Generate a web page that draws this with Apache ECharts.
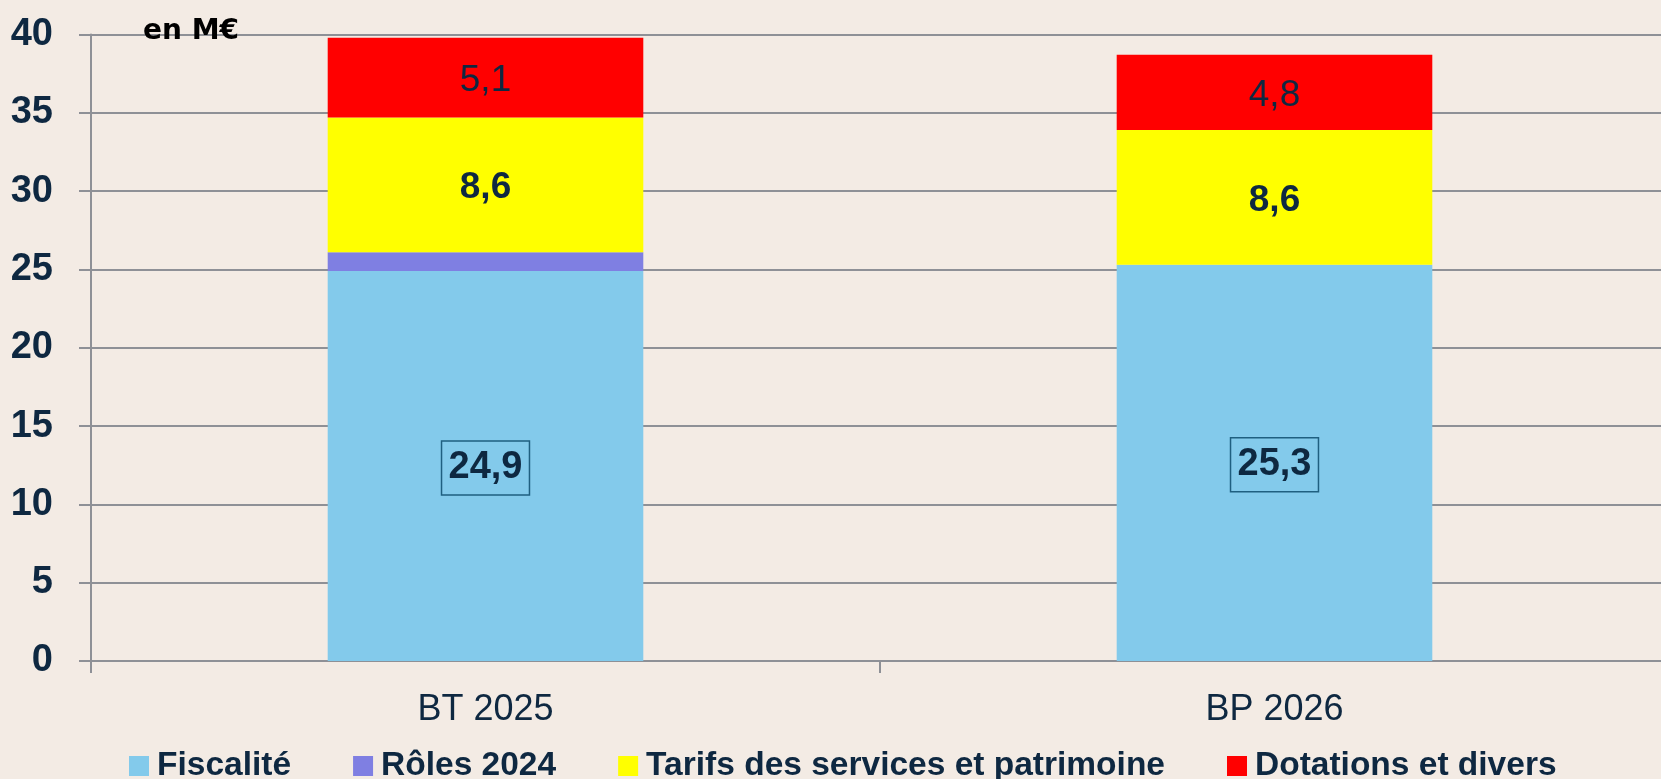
<!DOCTYPE html>
<html>
<head>
<meta charset="utf-8">
<script src="https://cdn.jsdelivr.net/npm/echarts@6/dist/echarts.min.js"></script>
<style>
  html, body { margin: 0; padding: 0; background: #F3EBE4; overflow: hidden; }
  #chart { width: 1661px; height: 779px; }
</style>
</head>
<body>
<div id="chart"></div>
<script>
const categories = ['BT 2025', 'BP 2026'];
const seriesNames = ['Fiscalité', 'Rôles 2024', 'Tarifs des services et patrimoine', 'Dotations et divers'];
const fiscalite = [24.9, 25.3];
const roles2024 = [1.2, null];
const tarifs = [8.6, 8.6];
const dotations = [5.1, 4.8];
const yTicks = { min: 0, max: 40, interval: 5 };
const unitLabel = 'en M€';

const NAVY = '#0E2841';
const GRAY = '#8E9096';
const FONT = "'Liberation Sans', Arial, sans-serif";

const fmt = p => (p.value == null ? '' : p.value.toFixed(1).replace('.', ','));

const chart = echarts.init(document.getElementById('chart'), null, { renderer: 'canvas' });

function barSeries(name, data, color, label) {
  return {
    name, type: 'bar', stack: 'total', data,
    barWidth: '40%',
    itemStyle: { color },
    label: label,
    emphasis: { disabled: true }
  };
}

chart.setOption({
  backgroundColor: '#F3EBE4',
  animation: false,
  textStyle: { fontFamily: FONT },
  grid: { left: 91, width: 1578, top: 34.5, bottom: 118, containLabel: false, outerBoundsMode: 'none' },
  legend: {
    data: seriesNames,
    left: 124, top: 744,
    icon: 'rect', itemWidth: 20, itemHeight: 20, itemGap: 62,
    textStyle: { fontSize: 33.5, fontWeight: 'bold', color: NAVY, fontFamily: FONT, padding: [0, 0, 0, 3] }
  },
  xAxis: {
    type: 'category', data: categories, boundaryGap: true,
    axisLine: { show: true, lineStyle: { color: GRAY, width: 2 } },
    axisTick: { show: true, length: 12, lineStyle: { color: GRAY, width: 2 } },
    axisLabel: { margin: 31, fontSize: 36, color: NAVY, fontFamily: FONT }
  },
  yAxis: {
    type: 'value', min: yTicks.min, max: yTicks.max, interval: yTicks.interval,
    axisLine: { show: true, lineStyle: { color: GRAY, width: 2 } },
    axisTick: { show: true, length: 12, lineStyle: { color: GRAY, width: 2 } },
    splitLine: { show: true, lineStyle: { color: GRAY, width: 2 } },
    axisLabel: { margin: 38, fontSize: 38, fontWeight: 'bold', color: NAVY, fontFamily: FONT }
  },
  graphic: [{
    type: 'text', left: 143, top: 18, z: 100,
    style: { text: unitLabel, font: "bold 28px 'DejaVu Sans', sans-serif", fill: '#000' }
  }],
  series: [
    barSeries(seriesNames[0], fiscalite, '#83CAEB', {
      show: true, position: 'inside', formatter: fmt,
      fontSize: 38, fontWeight: 'bold', color: NAVY, fontFamily: FONT,
      borderColor: '#1F5F80', borderWidth: 1.5, padding: [9, 7, 7, 7], offset: [0, 2]
    }),
    barSeries(seriesNames[1], roles2024, '#7F7FE2', { show: false }),
    barSeries(seriesNames[2], tarifs, '#FFFF00', {
      show: true, position: 'inside', formatter: fmt, offset: [0, 3],
      fontSize: 37, fontWeight: 'bold', color: NAVY, fontFamily: FONT
    }),
    barSeries(seriesNames[3], dotations, '#FF0000', {
      show: true, position: 'inside', formatter: fmt, offset: [0, 3],
      fontSize: 37, fontWeight: 'normal', color: NAVY, fontFamily: FONT
    })
  ]
});
</script>
</body>
</html>
